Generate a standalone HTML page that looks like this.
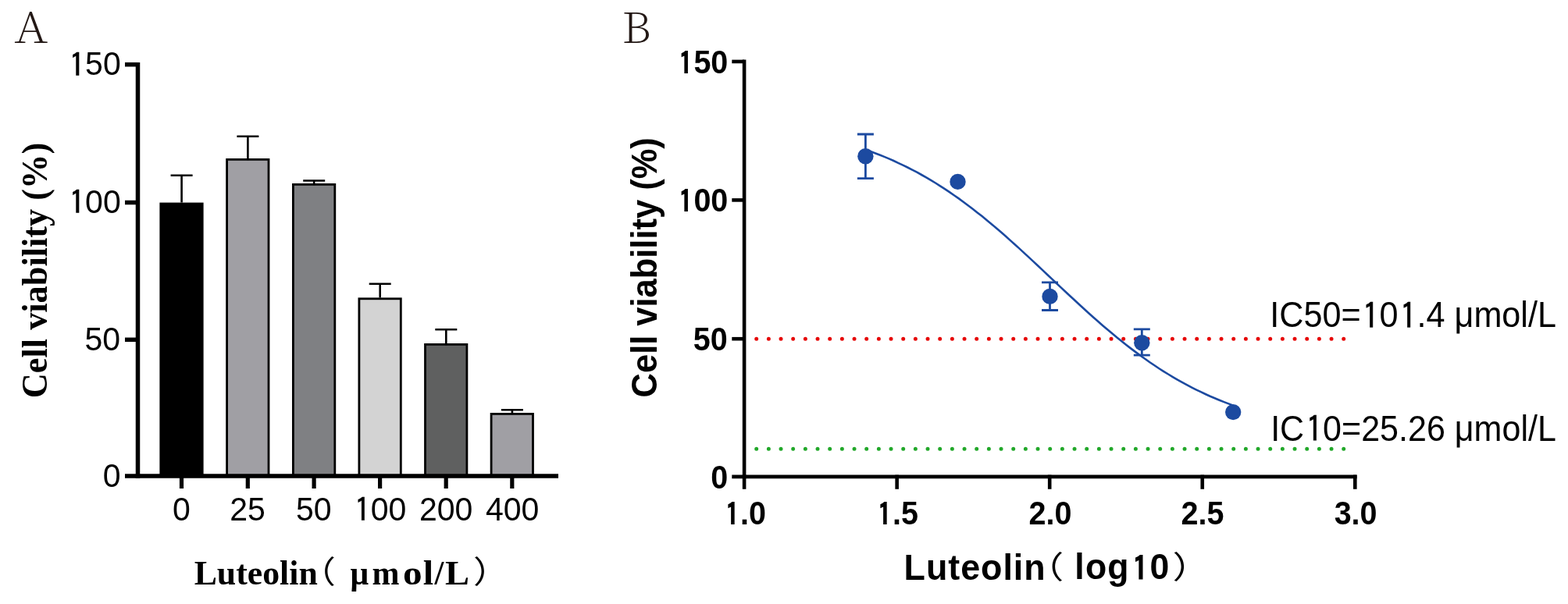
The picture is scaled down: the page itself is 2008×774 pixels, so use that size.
<!DOCTYPE html>
<html><head><meta charset="utf-8"><title>Luteolin cell viability</title>
<style>
html,body{margin:0;padding:0;background:#fff;}
body{width:2008px;height:774px;overflow:hidden;}
svg{display:block;}
text{fill:#000;}
</style></head>
<body><svg width="2008" height="774" viewBox="0 0 2008 774">
<rect width="2008" height="774" fill="#fff"/>
<text transform="translate(18.19,55.00) scale(1.1108,1)" style='font-family:"Noto Serif CJK SC",serif;font-weight:200;font-size:54.6px;fill:#231815'>A</text>
<rect x="205.80" y="261.00" width="53.40" height="349.10" fill="#000000" stroke="#000" stroke-width="2.8"/>
<path d="M232.60,259.60 V224.80 M218.60,224.80 H246.60" stroke="#000" stroke-width="2.6" fill="none"/>
<rect x="290.60" y="204.40" width="53.40" height="405.70" fill="#a09fa4" stroke="#000" stroke-width="2.8"/>
<path d="M317.40,203.00 V174.70 M303.40,174.70 H331.40" stroke="#000" stroke-width="2.6" fill="none"/>
<rect x="375.40" y="236.40" width="53.40" height="373.70" fill="#7f8083" stroke="#000" stroke-width="2.8"/>
<path d="M402.20,235.00 V231.50 M388.20,231.50 H416.20" stroke="#000" stroke-width="2.6" fill="none"/>
<rect x="459.90" y="382.80" width="53.40" height="227.30" fill="#d3d3d3" stroke="#000" stroke-width="2.8"/>
<path d="M486.70,381.40 V363.70 M472.70,363.70 H500.70" stroke="#000" stroke-width="2.6" fill="none"/>
<rect x="544.50" y="441.40" width="53.40" height="168.70" fill="#5f6060" stroke="#000" stroke-width="2.8"/>
<path d="M571.30,440.00 V422.20 M557.30,422.20 H585.30" stroke="#000" stroke-width="2.6" fill="none"/>
<rect x="629.10" y="530.40" width="53.40" height="79.70" fill="#a09fa4" stroke="#000" stroke-width="2.8"/>
<path d="M655.90,529.00 V525.30 M641.90,525.30 H669.90" stroke="#000" stroke-width="2.6" fill="none"/>
<path d="M176.50,79.95 V612.85" stroke="#000" stroke-width="5.5" fill="none"/>
<path d="M160,610.10 H715" stroke="#000" stroke-width="5.5" fill="none"/>
<path d="M160,82.70 H176.50" stroke="#000" stroke-width="5.5" fill="none"/>
<path d="M160,259.50 H176.50" stroke="#000" stroke-width="5.5" fill="none"/>
<path d="M160,435.30 H176.50" stroke="#000" stroke-width="5.5" fill="none"/>
<path d="M232.50,610.10 V626" stroke="#000" stroke-width="5.2" fill="none"/>
<path d="M317.30,610.10 V626" stroke="#000" stroke-width="5.2" fill="none"/>
<path d="M402.10,610.10 V626" stroke="#000" stroke-width="5.2" fill="none"/>
<path d="M486.60,610.10 V626" stroke="#000" stroke-width="5.2" fill="none"/>
<path d="M571.20,610.10 V626" stroke="#000" stroke-width="5.2" fill="none"/>
<path d="M655.80,610.10 V626" stroke="#000" stroke-width="5.2" fill="none"/>
<text transform="translate(86.32,96.20) scale(0.9650,1)" style='font-family:"Liberation Sans",sans-serif;font-size:42.5px'><tspan style="font-family:IPAGothic,sans-serif;stroke:#000;stroke-width:0.6px;font-weight:normal" dy="2.33" dx="2.21">1</tspan><tspan dy="-2.33" dx="0.17">50</tspan></text>
<text transform="translate(86.32,273.00) scale(0.9650,1)" style='font-family:"Liberation Sans",sans-serif;font-size:42.5px'><tspan style="font-family:IPAGothic,sans-serif;stroke:#000;stroke-width:0.6px;font-weight:normal" dy="2.33" dx="2.21">1</tspan><tspan dy="-2.33" dx="0.17">00</tspan></text>
<text transform="translate(108.51,448.80) scale(0.9650,1)" style='font-family:"Liberation Sans",sans-serif;font-size:42.5px'>50</text>
<text transform="translate(131.67,623.60) scale(0.9650,1)" style='font-family:"Liberation Sans",sans-serif;font-size:42.5px'>0</text>
<text transform="translate(220.92,667.00) scale(0.9650,1)" style='font-family:"Liberation Sans",sans-serif;font-size:42.5px'>0</text>
<text transform="translate(294.14,667.00) scale(0.9650,1)" style='font-family:"Liberation Sans",sans-serif;font-size:42.5px'>25</text>
<text transform="translate(378.94,667.00) scale(0.9650,1)" style='font-family:"Liberation Sans",sans-serif;font-size:42.5px'>50</text>
<text transform="translate(451.93,667.00) scale(0.9650,1)" style='font-family:"Liberation Sans",sans-serif;font-size:42.5px'><tspan style="font-family:IPAGothic,sans-serif;stroke:#000;stroke-width:0.6px;font-weight:normal" dy="2.33" dx="2.21">1</tspan><tspan dy="-2.33" dx="0.17">00</tspan></text>
<text transform="translate(536.94,667.00) scale(0.9650,1)" style='font-family:"Liberation Sans",sans-serif;font-size:42.5px'>200</text>
<text transform="translate(622.02,667.00) scale(0.9650,1)" style='font-family:"Liberation Sans",sans-serif;font-size:42.5px'>400</text>
<text transform="translate(60.30,510.25) rotate(-90) scale(0.9744,1)" style='font-family:"Liberation Serif",serif;font-weight:bold;font-size:45.5px'>Cell viability (%)</text>
<text transform="translate(248.63,748.50) scale(0.9733,1)" style='font-family:"Liberation Serif",serif;font-weight:bold;font-size:45px'>Luteolin</text>
<text transform="translate(384.66,746.60) scale(1.1300,1)" style='font-family:"Noto Sans CJK SC",sans-serif;font-size:40px'>（</text>
<text transform="translate(448.57,748.50) scale(0.9250,1)" style='font-family:"Liberation Serif",serif;font-weight:bold;font-size:45px'>μ</text>
<text transform="translate(476.47,748.50) scale(0.9333,1)" style='font-family:"Liberation Serif",serif;font-weight:bold;font-size:45px'>m</text>
<text transform="translate(515.91,748.50) scale(1.0947,1)" style='font-family:"Liberation Serif",serif;font-weight:bold;font-size:45px'>o</text>
<text transform="translate(541.63,748.50) scale(1.0727,1)" style='font-family:"Liberation Serif",serif;font-weight:bold;font-size:45px'>l</text>
<text transform="translate(556.40,748.50) scale(0.9462,1)" style='font-family:"Liberation Serif",serif;font-weight:bold;font-size:45px'>/</text>
<text transform="translate(570.07,748.50) scale(1.0333,1)" style='font-family:"Liberation Serif",serif;font-weight:bold;font-size:45px'>L</text>
<text transform="translate(606.12,746.90) scale(1.1400,1)" style='font-family:"Noto Sans CJK SC",sans-serif;font-size:40px'>）</text>
<text transform="translate(796.25,55.00) scale(1.0500,1)" style='font-family:"Noto Serif CJK SC",serif;font-weight:200;font-size:54.6px;fill:#231815'>B</text>
<path d="M968.7,434.2 H1725" stroke="#e60808" stroke-width="5" stroke-linecap="round" stroke-dasharray="0 15.667" fill="none"/>
<path d="M968.7,575.3 H1725" stroke="#22a82a" stroke-width="5" stroke-linecap="round" stroke-dasharray="0 15.667" fill="none"/>
<path d="M953.10,76.60 V613.20" stroke="#000" stroke-width="4.6" fill="none"/>
<path d="M937.3,610.90 H1737.60" stroke="#000" stroke-width="4.6" fill="none"/>
<path d="M937.3,78.90 H953.10" stroke="#000" stroke-width="4.6" fill="none"/>
<path d="M937.3,256.40 H953.10" stroke="#000" stroke-width="4.6" fill="none"/>
<path d="M937.3,434.20 H953.10" stroke="#000" stroke-width="4.6" fill="none"/>
<path d="M953.10,608.60 V626.8" stroke="#000" stroke-width="4.6" fill="none"/>
<path d="M1148.65,608.60 V626.8" stroke="#000" stroke-width="4.6" fill="none"/>
<path d="M1344.20,608.60 V626.8" stroke="#000" stroke-width="4.6" fill="none"/>
<path d="M1539.75,608.60 V626.8" stroke="#000" stroke-width="4.6" fill="none"/>
<path d="M1735.30,608.60 V626.8" stroke="#000" stroke-width="4.6" fill="none"/>
<text transform="translate(866.43,93.80) scale(0.9300,1)" style='font-family:"Liberation Sans",sans-serif;font-weight:bold;font-size:42.5px'><tspan style="font-family:IPAGothic,sans-serif;font-size:38.25px;stroke:#000;stroke-width:1.8px;font-weight:normal" dy="1.01" dx="3.06">1</tspan><tspan dy="-1.01" dx="1.45">50</tspan></text>
<text transform="translate(866.43,271.30) scale(0.9300,1)" style='font-family:"Liberation Sans",sans-serif;font-weight:bold;font-size:42.5px'><tspan style="font-family:IPAGothic,sans-serif;font-size:38.25px;stroke:#000;stroke-width:1.8px;font-weight:normal" dy="1.01" dx="3.06">1</tspan><tspan dy="-1.01" dx="1.45">00</tspan></text>
<text transform="translate(887.82,449.10) scale(0.9300,1)" style='font-family:"Liberation Sans",sans-serif;font-weight:bold;font-size:42.5px'>50</text>
<text transform="translate(910.14,625.80) scale(0.9300,1)" style='font-family:"Liberation Sans",sans-serif;font-weight:bold;font-size:42.5px'>0</text>
<text transform="translate(926.04,671.60) scale(0.9300,1)" style='font-family:"Liberation Sans",sans-serif;font-weight:bold;font-size:42.5px'><tspan style="font-family:IPAGothic,sans-serif;font-size:38.25px;stroke:#000;stroke-width:1.8px;font-weight:normal" dy="1.01" dx="3.06">1</tspan><tspan dy="-1.01" dx="1.45">.0</tspan></text>
<text transform="translate(1121.13,671.60) scale(0.9300,1)" style='font-family:"Liberation Sans",sans-serif;font-weight:bold;font-size:42.5px'><tspan style="font-family:IPAGothic,sans-serif;font-size:38.25px;stroke:#000;stroke-width:1.8px;font-weight:normal" dy="1.01" dx="3.06">1</tspan><tspan dy="-1.01" dx="1.45">.5</tspan></text>
<text transform="translate(1317.53,671.60) scale(0.9300,1)" style='font-family:"Liberation Sans",sans-serif;font-weight:bold;font-size:42.5px'>2.0</text>
<text transform="translate(1512.62,671.60) scale(0.9300,1)" style='font-family:"Liberation Sans",sans-serif;font-weight:bold;font-size:42.5px'>2.5</text>
<text transform="translate(1708.63,671.60) scale(0.9300,1)" style='font-family:"Liberation Sans",sans-serif;font-weight:bold;font-size:42.5px'>3.0</text>
<text transform="translate(840.60,509.41) rotate(-90) scale(0.9551,1)" style='font-family:"Liberation Sans",sans-serif;font-weight:bold;font-size:45.5px'>Cell viability (%)</text>
<text transform="translate(1157.55,742.60) scale(0.9848,1)" style='font-family:"Liberation Sans",sans-serif;font-weight:bold;font-size:45.5px;letter-spacing:1.0px'>Luteolin</text>
<text transform="translate(1314.30,741.30) scale(1.2000,1)" style='font-family:"Noto Sans CJK SC",sans-serif;font-size:40px'>（</text>
<text transform="translate(1376.36,742.30) scale(0.9790,1)" style='font-family:"Liberation Sans",sans-serif;font-weight:bold;font-size:45.5px;letter-spacing:1.2px'>log<tspan style="font-family:IPAGothic,sans-serif;font-size:42.32px;stroke:#000;stroke-width:1.8px;font-weight:normal" dy="1.22" dx="3.28">1</tspan><tspan dy="-1.22" dx="0.86">0</tspan></text>
<text transform="translate(1501.40,741.30) scale(1.2000,1)" style='font-family:"Noto Sans CJK SC",sans-serif;font-size:40px'>）</text>
<path d="M1108.6,191.8 L1114.6,193.9 L1120.5,196.2 L1126.5,198.5 L1132.4,200.9 L1138.4,203.4 L1144.4,206.0 L1150.3,208.8 L1156.3,211.6 L1162.2,214.5 L1168.2,217.6 L1174.2,220.7 L1180.1,224.0 L1186.1,227.4 L1192.0,230.9 L1198.0,234.5 L1204.0,238.3 L1209.9,242.1 L1215.9,246.1 L1221.8,250.2 L1227.8,254.4 L1233.7,258.8 L1239.7,263.2 L1245.7,267.7 L1251.6,272.4 L1257.6,277.1 L1263.5,282.0 L1269.5,287.0 L1275.5,292.0 L1281.4,297.1 L1287.4,302.3 L1293.3,307.6 L1299.3,313.0 L1305.3,318.4 L1311.2,323.9 L1317.2,329.4 L1323.1,334.9 L1329.1,340.5 L1335.1,346.1 L1341.0,351.7 L1347.0,357.4 L1352.9,363.0 L1358.9,368.6 L1364.9,374.2 L1370.8,379.8 L1376.8,385.3 L1382.7,390.8 L1388.7,396.3 L1394.7,401.7 L1400.6,407.0 L1406.6,412.2 L1412.5,417.4 L1418.5,422.5 L1424.5,427.5 L1430.4,432.5 L1436.4,437.3 L1442.3,442.0 L1448.3,446.6 L1454.3,451.1 L1460.2,455.5 L1466.2,459.8 L1472.1,464.0 L1478.1,468.0 L1484.0,472.0 L1490.0,475.8 L1496.0,479.5 L1501.9,483.1 L1507.9,486.6 L1513.8,489.9 L1519.8,493.1 L1525.8,496.3 L1531.7,499.3 L1537.7,502.2 L1543.6,505.0 L1549.6,507.7 L1555.6,510.2 L1561.5,512.7 L1567.5,515.1 L1573.4,517.4 L1579.4,519.6" stroke="#1c4aa0" stroke-width="2.6" fill="none"/>
<path d="M1108.4,172.0 V228.6 M1097.9,172.0 H1118.9 M1097.9,228.6 H1118.9" stroke="#1c4aa0" stroke-width="2.8" fill="none"/>
<circle cx="1108.4" cy="200.2" r="10.2" fill="#1c4aa0"/>
<circle cx="1226.5" cy="232.9" r="10.2" fill="#1c4aa0"/>
<path d="M1344.5,361.8 V397.5 M1334.0,361.8 H1355.0 M1334.0,397.5 H1355.0" stroke="#1c4aa0" stroke-width="2.8" fill="none"/>
<circle cx="1344.5" cy="379.9" r="10.2" fill="#1c4aa0"/>
<path d="M1462.3,421.9 V455.1 M1451.8,421.9 H1472.8 M1451.8,455.1 H1472.8" stroke="#1c4aa0" stroke-width="2.8" fill="none"/>
<circle cx="1462.3" cy="439.3" r="10.2" fill="#1c4aa0"/>
<circle cx="1579.2" cy="528.1" r="10.2" fill="#1c4aa0"/>
<text transform="translate(1626.23,419.20) scale(0.9433,1)" style='font-family:"Liberation Sans",sans-serif;font-size:45.75px'>IC50=<tspan style="font-family:IPAGothic,sans-serif;stroke:#000;stroke-width:0.6px;font-weight:normal" dy="1.99" dx="2.38">1</tspan><tspan dy="-1.99" dx="0.18">0</tspan><tspan style="font-family:IPAGothic,sans-serif;stroke:#000;stroke-width:0.6px;font-weight:normal" dy="1.99" dx="2.38">1</tspan><tspan dy="-1.99" dx="0.18">.4 μmol/L</tspan></text>
<text transform="translate(1627.14,564.50) scale(0.9410,1)" style='font-family:"Liberation Sans",sans-serif;font-size:45.75px'>IC<tspan style="font-family:IPAGothic,sans-serif;stroke:#000;stroke-width:0.6px;font-weight:normal" dy="1.99" dx="2.38">1</tspan><tspan dy="-1.99" dx="0.18">0=25.26 μmol/L</tspan></text>
</svg></body></html>
